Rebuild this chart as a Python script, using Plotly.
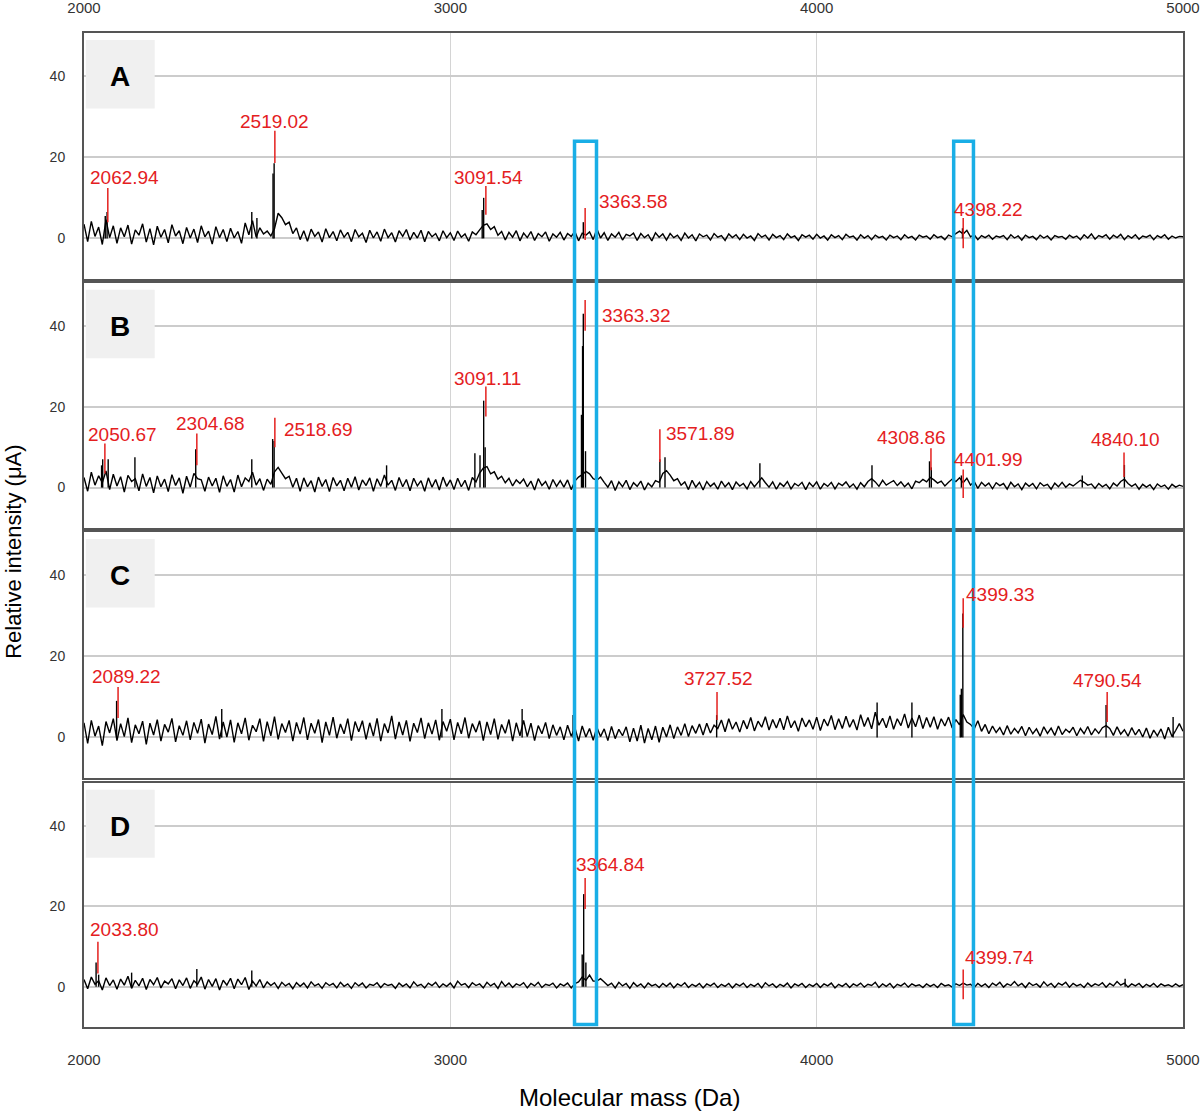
import plotly.graph_objects as go

# ---------------- data ----------------
mz_start = 2000
mz_step = 10
x_ticks = [2000, 3000, 4000, 5000]
y_ticks = [0, 20, 40]
panel_letters = ["A", "B", "C", "D"]

spec_a = [
    3.5, -0.8, 4.2, 0.5, 2.8, -1.5, 4.6, 0.2, 3.1, -1.2,
    2.6, 0.4, 3.3, -1.4, 2.1, 0.8, 3.6, -0.9, 2.4, -1.6,
    3.0, 0.3, 2.2, -1.1, 3.4, 0.6, 1.9, -1.3, 2.7, 0.1,
    2.3, -1.0, 3.1, 0.4, 1.8, -1.4, 2.9, 0.2, 2.2, -0.8,
    2.5, 0.1, 1.7, -1.2, 3.8, 0.9, 4.4, 0.3, 2.6, 1.1,
    1.8, 0.6, 2.4, 6.2, 5.1, 3.4, 4.0, 1.2, 2.6, -0.3,
    1.9, -0.7, 2.3, 0.5, 1.6, -0.9, 2.4, 0.2, 1.7, -0.6,
    2.1, 0.3, 1.5, -0.8, 2.2, 0.4, 1.3, -1.0, 2.0, 0.1,
    1.6, -0.7, 2.3, 0.2, 1.4, -0.9, 1.9, 0.5, 2.2, -0.4,
    1.5, 0.1, 2.0, -0.8, 1.7, 0.4, 1.2, -0.6, 1.9, 0.2,
    1.4, -0.5, 1.8, 0.3, 1.1, -0.7, 1.6, 0.9, 2.1, 3.2,
    3.6, 2.2, 2.9, 0.8, 1.7, -0.4, 1.5, 0.3, 1.9, -0.6,
    1.3, 0.2, 1.7, -0.5, 1.2, 0.4, 1.6, -0.7, 1.1, 0.3,
    1.5, -0.4, 1.2, 0.5, 1.7, -0.6, 1.3, 0.8, 1.6, -0.3,
    2.4, 0.1, 1.4, -0.5, 1.1, 0.3, 1.5, -0.4, 1.0, 0.6,
    1.3, -0.5, 1.2, 0.2, 0.9, -0.6, 1.4, 0.3, 1.1, -0.4,
    1.2, 0.2, 0.8, -0.5, 1.3, 0.1, 0.9, -0.6, 1.1, 0.4,
    0.8, -0.4, 1.2, 0.3, 0.7, -0.5, 1.1, 0.2, 0.9, -0.3,
    1.0, 0.1, 0.6, -0.5, 1.2, 0.3, 0.8, -0.4, 1.0, 0.2,
    0.7, -0.3, 1.1, 0.2, 0.6, -0.5, 0.9, 0.3, 0.8, -0.2,
    1.0, 0.1, 0.6, -0.4, 0.9, 0.2, 0.7, -0.3, 1.0, 0.3,
    0.6, -0.4, 0.9, 0.1, 0.7, -0.3, 0.8, 0.2, 0.5, -0.4,
    0.8, 0.2, 0.6, -0.3, 0.9, 0.1, 0.5, -0.4, 0.8, 0.3,
    0.6, -0.2, 0.9, 0.2, 0.5, -0.3, 0.8, 0.4, 1.2, 1.8,
    1.1, 2.0, 0.4, 0.9, -0.3, 0.7, 0.2, 0.8, -0.2, 0.6,
    0.3, 0.7, -0.3, 0.9, 0.1, 0.6, -0.4, 0.8, 0.2, 0.5,
    -0.3, 0.8, 0.1, 0.6, -0.4, 0.7, 0.3, 0.5, -0.2, 0.8,
    0.2, 0.6, -0.3, 0.9, 0.1, 1.1, -0.2, 0.7, 0.3, 0.9,
    -0.2, 0.8, 0.2, 1.0, -0.3, 0.7, 0.1, 0.9, -0.2, 0.6,
    0.3, 0.8, -0.3, 0.7, 0.2, 0.9, -0.2, 0.6, 0.1, 0.5,
    0.4,
]

spec_b = [
    2.5, -0.9, 3.8, 0.6, 2.9, 1.2, 4.1, -0.5, 3.3, 0.4,
    2.7, -1.1, 3.0, 1.5, 2.2, -0.8, 3.4, 0.3, 2.5, -1.3,
    2.9, 0.2, 2.1, -1.0, 3.2, 0.5, 2.4, -1.4, 2.8, 0.1,
    3.5, 2.2, 1.9, -0.9, 2.6, 0.4, 2.3, -1.2, 2.9, 0.3,
    2.0, -1.1, 3.1, 0.2, 2.4, 1.5, 3.8, 0.6, 2.2, -0.7,
    2.1, 0.8, 3.9, 5.0, 3.6, 2.2, 2.8, 0.1, 2.3, -0.9,
    2.4, 0.2, 1.7, -1.1, 2.6, 0.3, 2.0, -1.0, 2.5, 0.4,
    1.8, -0.8, 2.3, 0.1, 2.7, -0.6, 1.9, 0.5, 2.4, -0.9,
    2.2, 0.3, 3.1, 0.6, 1.8, -0.7, 2.5, 0.2, 2.0, -0.8,
    2.3, 0.4, 1.7, -0.9, 2.4, 0.1, 2.0, -0.6, 2.6, 0.3,
    1.9, -0.5, 2.3, 0.2, 1.8, -0.7, 2.5, 1.4, 3.6, 4.8,
    5.2, 3.4, 3.9, 2.1, 2.8, 1.2, 2.3, 0.4, 1.9, 1.0,
    2.1, 0.2, 1.6, -0.6, 2.2, 0.5, 1.5, -0.4, 2.0, 0.3,
    1.7, 0.1, 1.9, -0.5, 1.6, 2.6, 3.2, 4.0, 3.4, 2.2,
    1.8, 2.6, 1.3, 0.1, 1.7, -0.7, 1.4, 0.2, 1.8, -0.5,
    1.2, 0.3, 1.6, -0.6, 1.1, 0.2, 1.7, 1.3, 3.5, 4.2,
    3.1, 1.7, 2.2, 0.6, 1.4, -0.5, 1.8, 0.1, 1.3, -0.6,
    1.5, 0.3, 1.1, -0.4, 1.6, 0.2, 1.2, -0.5, 1.4, 0.4,
    1.0, -0.3, 1.5, 0.2, 1.3, 2.4, 1.2, 0.1, 1.4, -0.4,
    1.1, 0.3, 1.5, -0.3, 1.0, 0.4, 1.3, -0.5, 1.2, 0.2,
    1.4, -0.4, 1.0, 0.3, 1.3, -0.3, 1.1, 0.5, 1.4, 0.1,
    0.9, -0.4, 1.2, 0.2, 1.5, 2.2, 1.4, 0.3, 1.8, 0.6,
    1.2, 1.7, 0.5, 1.4, 0.2, 1.1, -0.3, 1.6, 1.2, 2.0,
    1.4, 2.5, 1.9, 1.1, 1.6, 0.4, 1.3, 2.1, 1.5, 2.4,
    1.2, 2.3, 0.6, 1.5, -0.2, 1.3, 0.4, 1.1, -0.3, 1.2,
    0.5, 1.0, -0.4, 1.3, 0.2, 0.9, -0.5, 1.1, 0.3, 1.0,
    -0.3, 1.2, 0.4, 0.8, -0.4, 1.1, 0.2, 1.3, 0.1, 0.9,
    0.4, 1.2, 1.8, 1.3, 0.6, 0.9, -0.2, 1.0, 0.2, 0.8,
    -0.3, 1.1, 0.4, 1.5, 2.1, 1.0, 0.3, 0.9, -0.4, 0.8,
    0.1, 0.7, -0.5, 0.9, 0.2, 0.6, -0.4, 0.8, 0.1, 0.6,
    0.3,
]

spec_c = [
    3.6, -1.5, 4.2, 0.3, 2.8, -2.0, 3.9, 1.1, 4.6, -0.8,
    3.4, 0.2, 4.8, -1.3, 3.1, 0.9, 4.0, -1.7, 3.5, 0.6,
    4.4, -0.9, 3.2, 1.3, 4.7, -1.1, 2.9, 0.5, 4.1, -0.6,
    3.7, 1.0, 4.5, -1.4, 3.3, 0.7, 5.2, -0.4, 3.8, 0.1,
    4.3, -1.2, 3.6, 0.9, 4.8, -0.7, 3.0, 1.4, 4.6, -1.0,
    3.9, 0.4, 5.1, -0.5, 3.4, 1.2, 4.2, -0.9, 3.7, 0.8,
    4.9, -0.6, 3.5, 1.0, 4.4, -1.3, 3.8, 0.5, 5.0, -0.2,
    3.3, 0.9, 4.6, -0.8, 3.9, 1.4, 4.1, -0.5, 3.6, 0.3,
    4.7, -0.9, 3.4, 1.1, 5.3, -0.4, 3.8, 0.6, 4.2, -1.0,
    3.5, 1.2, 4.8, -0.3, 3.6, 0.8, 4.3, -0.7, 3.9, 1.5,
    4.5, -0.6, 3.7, 0.9, 4.9, -0.2, 3.4, 1.3, 4.1, -0.8,
    3.8, 0.7, 4.6, -0.5, 3.2, 1.0, 4.4, -0.9, 3.6, 0.4,
    4.2, 0.2, 3.5, -0.8, 2.9, 0.9, 3.7, -0.3, 3.1, 0.5,
    2.6, -0.6, 3.0, 0.3, 2.4, -0.9, 2.8, 0.1, 2.2, -0.7,
    2.5, 0.2, 2.1, -0.8, 2.7, -0.3, 2.0, 0.4, 2.6, -1.1,
    2.3, -0.9, 3.0, -1.4, 2.2, -0.6, 2.8, -1.2, 2.5, 0.1,
    3.1, -0.3, 2.6, 0.5, 3.4, 0.2, 2.9, 1.0, 3.3, 0.6,
    3.5, 1.1, 3.0, 2.2, 4.3, 1.4, 4.6, 2.0, 3.8, 1.3,
    4.2, 2.1, 4.9, 1.6, 4.0, 2.5, 5.1, 1.8, 4.4, 2.3,
    4.7, 1.9, 5.3, 2.4, 4.1, 1.5, 4.8, 2.6, 4.3, 2.0,
    5.0, 1.7, 4.5, 2.8, 5.4, 1.9, 4.6, 2.2, 5.2, 2.5,
    4.4, 1.8, 5.6, 2.7, 4.9, 2.1, 6.2, 3.0, 4.7, 2.4,
    5.3, 2.0, 4.6, 2.9, 5.8, 2.3, 4.8, 2.6, 5.5, 2.2,
    4.9, 2.5, 5.1, 2.0, 4.6, 2.8, 5.0, 2.3, 4.4, 3.1,
    5.6, 3.8, 3.2, 2.1, 4.1, 1.5, 3.2, 0.9, 2.8, 1.2,
    2.4, 0.6, 2.9, 0.8, 2.2, 1.1, 2.7, 0.4, 2.5, 0.9,
    2.1, 0.3, 2.6, 1.0, 2.3, 0.5, 2.8, 0.7, 2.0, 1.2,
    2.5, 0.4, 2.2, 0.9, 2.7, 0.6, 2.1, 1.0, 2.4, 2.9,
    2.2, 0.5, 2.6, 0.8, 1.9, 0.3, 2.4, 0.6, 2.0, 0.1,
    2.3, -0.2, 1.8, 0.4, 2.1, -0.4, 2.5, 0.2, 1.7, 3.4,
    1.5,
]

spec_d = [
    1.8, -0.5, 2.4, 0.6, 1.5, -0.8, 2.2, 0.3, 1.7, -0.6,
    1.9, 0.4, 2.6, -0.4, 1.6, 0.2, 2.1, -0.7, 1.8, 0.5,
    2.3, -0.3, 1.4, 0.7, 2.0, -0.5, 1.7, 0.3, 2.2, -0.4,
    1.5, 0.6, 2.4, -0.6, 1.8, 0.1, 2.0, -0.8, 1.6, 0.4,
    2.1, -0.5, 1.9, 0.5, 2.3, -0.7, 1.4, 0.2, 1.8, -0.3,
    1.2, 0.3, 1.0, -0.4, 1.1, 0.2, 0.8, -0.5, 1.0, 0.1,
    0.9, -0.3, 1.2, 0.2, 0.7, -0.4, 1.0, 0.3, 0.8, -0.3,
    1.1, 0.1, 0.7, -0.4, 1.0, 0.2, 0.9, -0.3, 0.6, 0.3,
    1.0, -0.2, 0.8, 0.3, 0.6, -0.4, 0.9, 0.1, 0.7, -0.3,
    1.2, 0.2, 0.6, -0.3, 0.9, 0.3, 1.1, -0.2, 0.7, 0.1,
    0.9, -0.3, 1.4, 0.4, 0.8, -0.2, 1.0, 0.3, 0.7, -0.3,
    1.1, 0.2, 0.8, -0.4, 1.3, 0.1, 0.9, -0.2, 0.7, 0.3,
    1.0, -0.3, 0.8, 0.2, 1.1, -0.2, 0.6, 0.3, 0.9, -0.3,
    0.7, 0.2, 0.9, -0.3, 0.8, 1.2, 2.4, 1.6, 2.9, 1.4,
    1.4, 2.0, 1.2, 0.3, 0.9, -0.3, 1.1, 0.2, 0.8, -0.4,
    1.0, 0.1, 0.7, -0.3, 0.9, 0.2, 0.6, -0.2, 0.8, 0.1,
    0.9, -0.3, 0.7, 0.2, 1.0, -0.2, 0.6, 0.1, 0.8, -0.3,
    0.7, 0.2, 0.9, -0.2, 0.6, 0.1, 0.8, -0.3, 0.7, 0.2,
    0.9, -0.2, 0.6, 0.1, 0.8, -0.3, 1.0, 0.2, 0.7, -0.2,
    0.6, 0.1, 0.9, -0.3, 0.7, 0.2, 0.8, -0.2, 0.6, 0.1,
    0.8, -0.2, 0.7, 0.2, 0.9, -0.3, 0.6, 0.1, 0.8, -0.2,
    0.7, 0.2, 0.9, -0.1, 0.6, 0.3, 1.1, -0.2, 0.7, 0.1,
    0.8, -0.3, 0.6, 0.2, 0.9, -0.1, 0.7, 0.2, 0.5, -0.2,
    0.7, 0.1, 0.6, -0.2, 0.8, 0.2, 0.5, -0.1, 0.7, 0.3,
    0.9, 0.4, 0.6, -0.2, 0.8, 0.1, 0.7, -0.2, 0.9, 0.3,
    1.1, -0.1, 0.7, 0.3, 1.3, 0.2, 0.8, -0.2, 1.0, 0.3,
    0.7, -0.1, 1.2, 0.2, 0.8, -0.2, 0.9, 0.4, 1.1, -0.1,
    0.8, 0.2, 0.6, -0.2, 0.9, 0.1, 0.7, 0.3, 1.0, -0.1,
    0.8, 0.2, 1.3, 0.4, 0.9, -0.1, 0.7, 0.2, 0.8, -0.2,
    0.6, 0.1, 0.8, -0.1, 0.7, 0.2, 0.5, 0.0, 0.7, 0.1,
    0.5,
]

# narrow peaks (m/z, intensity)
peaks_a_mz = [2058, 2063, 2458, 2472, 2516, 2519, 3087, 3091, 3363, 3397, 4398]
peaks_a_h = [5.5, 6.5, 6.5, 5.0, 16.0, 18.5, 7.0, 10.0, 4.0, 3.0, 2.5]
peaks_b_mz = [2048, 2051, 2066, 2139, 2305, 2458, 2515, 2519, 2826, 3067, 3081, 3091,
              3095, 3358, 3361, 3363, 3369, 3572, 3586, 3845, 4151, 4308, 4313, 4395,
              4725, 4840]
peaks_b_h = [5.5, 7.0, 7.0, 7.5, 9.5, 7.0, 12.0, 11.5, 5.5, 8.5, 8.0, 21.5,
             10.0, 18.0, 35.0, 43.0, 9.0, 7.0, 7.5, 6.0, 5.5, 6.5, 5.0, 3.0,
             3.0, 5.6]
peaks_c_mz = [2089, 2376, 2977, 3196, 3335, 3727, 4165, 4260, 4392, 4395, 4399, 4790, 4973]
peaks_c_h = [9.0, 7.0, 7.0, 7.0, 5.5, 5.5, 8.6, 8.6, 10.5, 12.0, 30.5, 8.0, 5.0]
peaks_d_mz = [2033, 2040, 2130, 2308, 2458, 3360, 3364, 3370, 4842]
peaks_d_h = [6.0, 3.0, 3.5, 4.4, 4.0, 8.0, 23.0, 6.0, 2.0]

labels_a = ["2062.94", "2519.02", "3091.54", "3363.58", "4398.22"]
labels_b = ["2050.67", "2304.68", "2518.69", "3091.11", "3363.32", "3571.89",
            "4308.86", "4401.99", "4840.10"]
labels_c = ["2089.22", "3727.52", "4399.33", "4790.54"]
labels_d = ["2033.80", "3364.84", "4399.74"]

highlight_ranges = [(3339, 3399), (4374, 4428)]

# ---------------- layout helpers (positions) ----------------
# (text_x, text_y, marker_x, marker_y0, marker_y1)
label_pos_a = [(2110, 14.9, 2065, 12.4, 4.0), (2520, 28.9, 2521, 26.5, 18.6),
               (3103, 15.1, 3097, 12.9, 5.8), (3501, 9.2, 3368, 7.5, -0.4),
               (4470, 7.2, 4400, 5.0, -2.4)]
label_pos_b = [(2106, 13.2, 2057, 10.9, 3.5), (2345, 15.9, 2308, 13.4, 5.5),
               (2641, 14.4, 2521, 17.3, 10.0), (3101, 27.0, 3097, 25.0, 17.6),
               (3507, 42.5, 3368, 46.4, 38.8), (3684, 13.4, 3572, 14.4, 6.3),
               (4260, 12.4, 4312, 9.7, 4.3), (4470, 7.0, 4400, 4.5, -2.6),
               (4844, 11.9, 4839, 8.7, 2.6)]
label_pos_c = [(2117, 14.9, 2093, 12.4, 4.8), (3731, 14.6, 3728, 11.2, 4.3),
               (4503, 35.3, 4400, 34.3, 27.0), (4793, 13.9, 4793, 11.2, 3.8)]
label_pos_d = [(2110, 14.1, 2038, 11.2, 3.3), (3436, 30.4, 3368, 27.0, 19.3),
               (4498, 7.2, 4400, 4.3, -3.1)]

panels = [
    (spec_a, peaks_a_mz, peaks_a_h, labels_a, label_pos_a),
    (spec_b, peaks_b_mz, peaks_b_h, labels_b, label_pos_b),
    (spec_c, peaks_c_mz, peaks_c_h, labels_c, label_pos_c),
    (spec_d, peaks_d_mz, peaks_d_h, labels_d, label_pos_d),
]
domains = [(0.7525, 1.0), (0.502, 0.7485), (0.2505, 0.498), (0.0, 0.2455)]

FONT = "Liberation Sans, Arial, sans-serif"
RED = "#E4201E"
BLUE = "#19AEE6"

fig = go.Figure()
shapes = []
annotations = []
layout = dict(
    width=1200, height=1112, autosize=False,
    margin=dict(l=84, r=17, t=33, b=85, autoexpand=False),
    paper_bgcolor="white", plot_bgcolor="white",
    showlegend=False, font=dict(family=FONT, color="#333"),
)

for i, (spec, pk_mz, pk_h, labels, lpos) in enumerate(panels):
    n = "" if i == 0 else str(i + 1)
    xa, ya = "x" + n, "y" + n
    xs = [mz_start + mz_step * k for k in range(len(spec))]
    fig.add_trace(go.Scatter(x=xs, y=spec, mode="lines", xaxis=xa, yaxis=ya,
                             line=dict(color="black", width=1.4), hoverinfo="skip"))
    sx, sy = [], []
    for m, h in zip(pk_mz, pk_h):
        sx += [m, m, None]
        sy += [0, h, None]
    fig.add_trace(go.Scatter(x=sx, y=sy, mode="lines", xaxis=xa, yaxis=ya,
                             line=dict(color="black", width=1.4), hoverinfo="skip"))

    layout["xaxis" + n] = dict(
        domain=[0, 1], anchor=ya, range=[2000, 5000], tickvals=x_ticks,
        showticklabels=(i in (0, 3)), side="top" if i == 0 else "bottom",
        showgrid=True, gridcolor="#d4d4d4", gridwidth=1,
        showline=True, mirror=True, linecolor="#555", linewidth=2,
        zeroline=False, ticks="", ticklabelstandoff=12 if i == 0 else 18,
        automargin=False,
        tickfont=dict(size=15, color="#333", family=FONT),
        **({} if i == 0 else {"matches": "x"}),
    )
    layout["yaxis" + n] = dict(
        domain=list(domains[i]), anchor=xa, range=[-10, 50.6], tickvals=y_ticks,
        showgrid=True, gridcolor="#cccccc", gridwidth=1.5,
        showline=True, mirror=True, linecolor="#555", linewidth=2,
        zeroline=False, ticks="", ticklabelstandoff=14, automargin=False,
        tickfont=dict(size=14, color="#333", family=FONT),
    )

    # letter box
    shapes.append(dict(type="rect", xref=xa, yref=ya, x0=2005, x1=2193, y0=32.0, y1=48.9,
                       fillcolor="#f0f0f0", line=dict(width=0), layer="above"))
    annotations.append(dict(xref=xa, yref=ya, x=2099, y=39.8,
                            text="<b>" + panel_letters[i] + "</b>",
                            showarrow=False, font=dict(size=28, color="black", family=FONT),
                            xanchor="center", yanchor="middle"))

    for lab, (tx, ty, mx, my0, my1) in zip(labels, lpos):
        shapes.append(dict(type="line", xref=xa, yref=ya, x0=mx, x1=mx, y0=my0, y1=my1,
                           line=dict(color=RED, width=1.5), layer="above"))
        annotations.append(dict(xref=xa, yref=ya, x=tx, y=ty, text=lab, showarrow=False,
                                font=dict(size=19, color=RED, family=FONT),
                                xanchor="center", yanchor="middle"))

for (x0, x1) in highlight_ranges:
    shapes.append(dict(type="rect", xref="x", yref="paper", x0=x0, x1=x1, y0=0.0025, y1=0.891,
                       line=dict(color=BLUE, width=3.5), fillcolor="rgba(0,0,0,0)", layer="above"))

annotations.append(dict(xref="paper", yref="paper", x=-0.0637, y=0.478,
                        text="Relative intensity (μA)", textangle=-90, showarrow=False,
                        font=dict(size=22, color="black", family=FONT),
                        xanchor="center", yanchor="middle"))
annotations.append(dict(xref="paper", yref="paper", x=0.496, y=-0.0714,
                        text="Molecular mass (Da)", showarrow=False,
                        font=dict(size=24, color="black", family=FONT),
                        xanchor="center", yanchor="middle"))

layout["shapes"] = shapes
layout["annotations"] = annotations
fig.update_layout(**layout)

# remove the default 8px page margin so the figure fills the window exactly
fig.write_html("out.html", config={"displayModeBar": False},
               post_script="document.body.style.margin='0px';")
